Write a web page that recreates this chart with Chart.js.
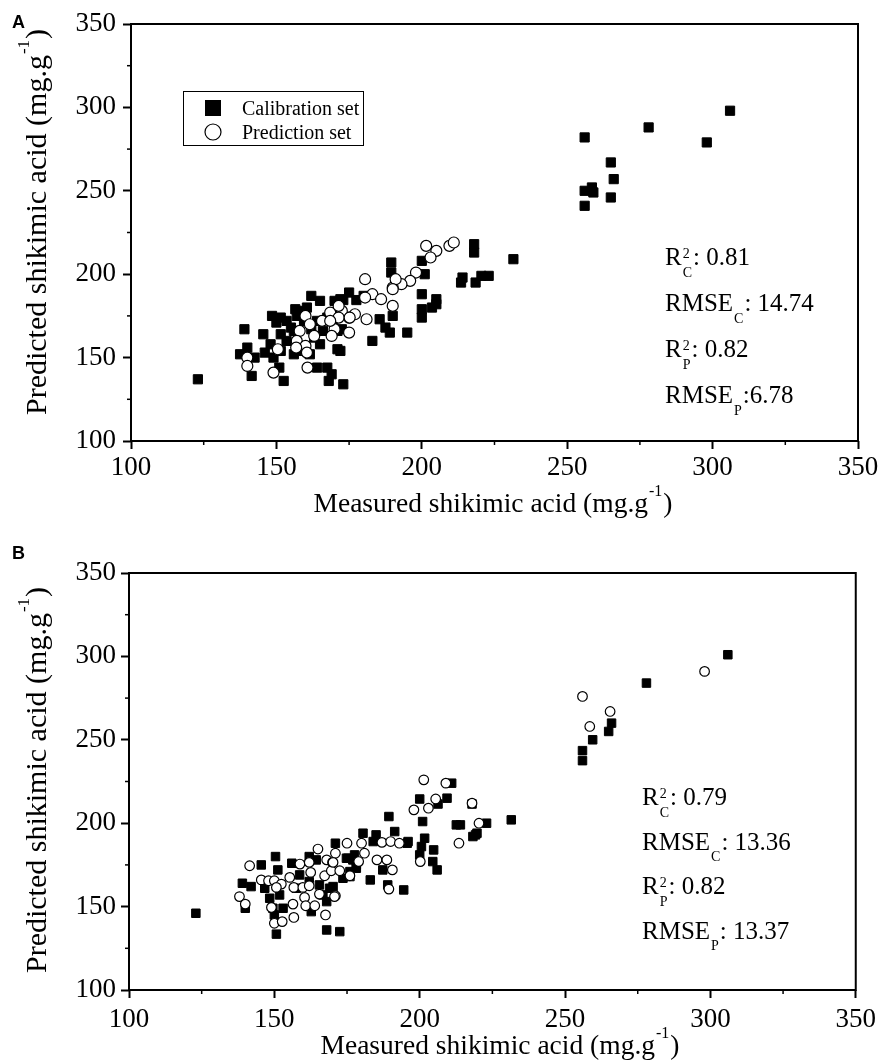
<!DOCTYPE html>
<html lang="en">
<head>
<meta charset="UTF-8">
<title>Shikimic acid: measured vs predicted</title>
<style>
    body { margin: 0; padding: 0; background: #fff; }
    canvas { display: block; }
</style>
<script src="https://cdn.jsdelivr.net/npm/chart.js"></script>
</head>
<body>
<canvas id="chartA" width="882" height="540"></canvas>
<canvas id="chartB" width="882" height="523"></canvas>
<script>
// axis ticks (both panels)
const axisMin = 100;
const axisMax = 350;
const majorStep = 50;
const minorTicks = [125, 175, 225, 275, 325];

// Panel A - calibration set
const calXA = [306, 278, 256, 298, 265, 266, 256, 258.5, 259, 265, 256,
    218, 218, 231.5, 200, 189.5, 189.5, 201, 214, 213.5, 218.5, 220.5, 223, 200, 205, 200, 203.5, 200, 205,
    175, 180, 185.5, 187.5, 189, 190, 195, 183, 172, 173, 172.5,
    123, 139, 140, 137.5, 141.5, 142.5, 145.5, 146, 148.5, 151.5, 149, 151, 152.5, 156.5, 162, 165, 171, 164,
    167.5, 169, 168, 170, 172, 153.5, 156, 153.5, 151.5, 160.5, 164, 163, 165, 158, 161.5, 156, 151.5, 148,
    155, 159.5, 166, 167.5, 169.5, 171, 158, 150, 177.5, 173, 157, 162];
const calYA = [298, 288, 282, 279, 267, 257, 250, 252, 249, 246, 241,
    218, 213, 209, 208, 207, 201, 200, 198, 195, 195, 199, 199, 188, 185, 179, 180, 174, 182,
    189, 187, 173, 168, 165, 175, 165, 160, 154, 134, 167,
    137, 167, 156, 152, 139, 150, 164, 153, 175, 174, 150, 144, 136, 179, 187, 184, 155, 144,
    144, 140, 136, 184, 185, 172, 166, 160, 164, 180, 172, 162, 158, 154, 152, 152, 154, 158,
    168, 172, 166, 174, 172, 166, 178, 171, 184.5, 184.5, 175, 167];

// Panel A - prediction set
const preXA = [201.5, 205, 209.5, 211, 203, 180.5, 198, 196, 193, 190, 191, 190, 183, 180.5, 186, 190, 177, 175,
    181, 175, 172.5, 140, 140, 149, 150.5, 158, 160, 161.5, 163, 157, 160, 160.5, 160.7, 156.8, 165.7, 168.5,
    171.4, 171.4, 170, 169, 175.2, 168.5];
const preYA = [217, 214, 217, 219, 210, 197, 201, 196, 194, 192, 197, 191, 188, 186, 185, 181, 176, 174,
    173, 165, 178, 150, 145, 141, 155, 166, 175, 170, 163, 160, 157, 153, 144, 156, 172, 177,
    181, 174, 167, 163, 174, 172];

// Panel B - calibration set
const calXB = [123, 139, 142, 140, 145.5, 150.4, 150.7, 156, 151.2, 146.7, 148.4, 149.5, 150, 151.8, 153,
    162, 164.4, 158.7, 157.6, 162, 165.5, 166.7, 162.7, 168, 169, 171, 168, 172.5, 175.3, 178.2, 173.6, 176,
    180.5, 185, 191.4, 184, 196, 201.7, 200.6, 204.8, 200, 204.5, 206, 212.6, 219.2, 174.8, 177, 178.2,
    187.3, 183, 189, 194.5, 170.2, 176,
    211, 209.4, 200, 218, 206.3, 189.4, 201, 223, 231.5, 214, 219.7, 218.3, 195.7, 177.6,
    266, 265, 259.5, 256, 256, 278, 306];
const calYB = [146, 164, 162, 149, 175, 180, 133.5, 176, 172, 161, 155, 149, 145, 157, 149,
    180, 178, 169, 161, 165, 163, 157, 147, 153, 161, 188, 136, 135, 179, 175, 167, 168,
    194, 193, 195, 189, 189, 191, 186, 184, 181, 177, 172, 199, 193, 179, 178, 173,
    172, 166, 163, 160, 162, 171,
    224, 215, 214.5, 211.5, 211.5, 204, 201, 200, 202, 199, 194, 192, 188, 181,
    260, 255, 250, 243.5, 237.5, 284, 301];

// Panel B - prediction set
const preXB = [256, 265.5, 258.5, 298, 201.4, 209, 205.5, 203, 198, 218, 220.4, 213.5, 175, 180, 187, 190, 193, 181,
    141.5, 138, 140, 145.5, 148, 150, 152.4, 150.7, 149, 150, 152.7, 156.7, 155.3, 156.7, 156.4, 158.8,
    162, 162.5, 159.8, 162, 160.4, 160.8, 163.9, 165.5, 165, 167.3, 167.6, 168, 170, 171, 169.6, 172.5,
    171, 176, 179, 170.2, 185.3, 188.7, 190.6, 189.4, 170.7, 200.2];
const preYB = [276, 267, 258, 291, 226, 224, 214.5, 209, 208, 212, 200, 188, 188, 188, 188.5, 189, 188, 182,
    174.5, 156, 151.5, 166, 165.5, 165.5, 163.5, 161.5, 149.5, 140, 141, 143.5, 167.5, 161.5, 151.5, 175.5,
    176.5, 170.5, 161.5, 162.5, 155.5, 150.5, 150.5, 157.5, 184.5, 168.5, 145, 178, 176.5, 182, 171.5, 171.5,
    156.5, 168.5, 177, 176.5, 178, 178, 172, 160.5, 156, 177];

const statsA = [
    ['R', { sup: '2', sub: 'C' }, ': 0.81'],
    ['RMSE', { sub: 'C' }, ': 14.74'],
    ['R', { sup: '2', sub: 'P' }, ': 0.82'],
    ['RMSE', { sub: 'P' }, ':6.78']
];
const statsB = [
    ['R', { sup: '2', sub: 'C' }, ': 0.79'],
    ['RMSE', { sub: 'C' }, ': 13.36'],
    ['R', { sup: '2', sub: 'P' }, ': 0.82'],
    ['RMSE', { sub: 'P' }, ': 13.37']
];

const serif = '"Liberation Serif", "Times New Roman", serif';
const xTitle = ['Measured shikimic acid (mg.g', { sup: '-1', high: true }, ')'];
const yTitle = ['Predicted shikimic acid (mg.g', { sup: '-1', high: true }, ')'];

function toPoints(xs, ys) {
    return xs.map((x, i) => ({ x: x, y: ys[i] }));
}

// text with super/subscripts, returns the width
function richText(ctx, parts, x, y, size, draw) {
    const small = Math.round(size * 0.58);
    let cx = x;
    parts.forEach(p => {
        if (typeof p === 'string') {
            ctx.font = size + 'px ' + serif;
            if (draw) ctx.fillText(p, cx, y);
            cx += ctx.measureText(p).width;
        } else {
            ctx.font = small + 'px ' + serif;
            let w = 0;
            if (p.sup) {
                const off = p.high ? size * 0.58 : size * 0.3;
                if (draw) ctx.fillText(p.sup, cx + 1, y - off);
                w = ctx.measureText(p.sup).width;
            }
            if (p.sub) {
                if (draw) ctx.fillText(p.sub, cx + 1, y + size * 0.46);
                w = Math.max(w, ctx.measureText(p.sub).width);
            }
            cx += w + 2;
        }
    });
    return cx - x;
}

const decorPlugin = {
    id: 'decor',
    afterDraw(chart, args, o) {
        const { ctx, chartArea: a, scales } = chart;
        ctx.save();
        ctx.fillStyle = '#000';
        ctx.strokeStyle = '#000';
        ctx.textAlign = 'left';
        ctx.textBaseline = 'alphabetic';

        // frame and minor ticks
        ctx.lineWidth = 2;
        ctx.strokeRect(a.left, a.top, a.right - a.left, a.bottom - a.top);
        ctx.lineWidth = 1.5;
        minorTicks.forEach(v => {
            const px = scales.x.getPixelForValue(v);
            ctx.beginPath(); ctx.moveTo(px, a.bottom); ctx.lineTo(px, a.bottom + 4); ctx.stroke();
            const py = scales.y.getPixelForValue(v);
            ctx.beginPath(); ctx.moveTo(a.left, py); ctx.lineTo(a.left - 4, py); ctx.stroke();
        });

        // panel letter
        ctx.font = 'bold 18px "Liberation Sans", Arial, sans-serif';
        ctx.fillText(o.letter, 12, o.letterY);

        // axis titles
        const tw = richText(ctx, xTitle, 0, 0, 27.5, false);
        richText(ctx, xTitle, o.xTitleX - tw / 2, o.xTitleY, 27.5, true);
        const yw = richText(ctx, yTitle, 0, 0, 30, false);
        ctx.save();
        ctx.translate(o.yTitleX, o.yTitleY);
        ctx.rotate(-Math.PI / 2);
        richText(ctx, yTitle, -yw / 2, 0, 30, true);
        ctx.restore();

        // statistics
        o.stats.forEach((line, i) => {
            richText(ctx, line, o.statsX, o.statsY + i * o.statsGap, 25, true);
        });

        // legend
        if (o.legend) {
            const L = o.legend;
            ctx.lineWidth = 1;
            ctx.strokeRect(L.x + 0.5, L.y + 0.5, L.w, L.h);
            ctx.font = '20px ' + serif;
            chart.data.datasets.slice().sort((p, q) => q.order - p.order).forEach((ds, i) => {
                const cy = L.y + 17 + i * 24;
                const mx = L.x + 30;
                if (ds.pointStyle === 'rect') {
                    ctx.fillRect(mx - 8, cy - 8, 16, 16);
                } else {
                    ctx.beginPath();
                    ctx.arc(mx, cy, 8, 0, Math.PI * 2);
                    ctx.fillStyle = '#fff';
                    ctx.fill();
                    ctx.lineWidth = 1.2;
                    ctx.stroke();
                    ctx.fillStyle = '#000';
                }
                ctx.fillText(ds.label, L.x + 59, cy + 7);
            });
        }
        ctx.restore();
    }
};

function makeChart(id, calX, calY, preX, preY, box, marker, decor) {
    return new Chart(document.getElementById(id), {
        type: 'scatter',
        data: {
            datasets: [
                {
                    label: 'Calibration set', data: toPoints(calX, calY), order: 2,
                    pointStyle: 'rect', pointRadius: marker.rect, backgroundColor: '#000',
                    borderColor: '#000', borderWidth: 1
                },
                {
                    label: 'Prediction set', data: toPoints(preX, preY), order: 1,
                    pointStyle: 'circle', pointRadius: marker.circle, backgroundColor: '#fff',
                    borderColor: '#000', borderWidth: 1.2
                }
            ]
        },
        options: {
            responsive: false,
            animation: false,
            layout: { padding: { top: box.top, right: box.right, left: 0, bottom: 0 } },
            plugins: { legend: { display: false }, tooltip: { enabled: false }, decor: decor },
            scales: {
                x: {
                    type: 'linear', min: axisMin, max: axisMax,
                    afterFit: s => { s.height = box.xh; },
                    border: { display: false },
                    grid: { drawOnChartArea: false, tickLength: 8, tickWidth: 2, tickColor: '#000' },
                    ticks: { stepSize: majorStep, color: '#000', padding: box.xpad, maxRotation: 0,
                        font: { family: serif, size: 27 } }
                },
                y: {
                    type: 'linear', min: axisMin, max: axisMax,
                    afterFit: s => { s.width = box.yw; },
                    border: { display: false },
                    grid: { drawOnChartArea: false, tickLength: 8, tickWidth: 2, tickColor: '#000' },
                    ticks: { stepSize: majorStep, color: '#000', padding: box.ypad,
                        font: { family: serif, size: 27 } }
                }
            }
        },
        plugins: [decorPlugin]
    });
}

makeChart('chartA', calXA, calYA, preXA, preYA,
    { top: 24, right: 24, xh: 99, yw: 131, xpad: 3, ypad: 7 },
    { rect: 6.5, circle: 5.5 },
    { letter: 'A', letterY: 28, xTitleX: 493, xTitleY: 512, yTitleX: 46, yTitleY: 222,
      stats: statsA, statsX: 665, statsY: 265, statsGap: 46,
      legend: { x: 183, y: 91, w: 180, h: 54 } });

makeChart('chartB', calXB, calYB, preXB, preYB,
    { top: 33, right: 25, xh: 73, yw: 129, xpad: 6, ypad: 5 },
    { rect: 6, circle: 4.8 },
    { letter: 'B', letterY: 19, xTitleX: 500, xTitleY: 514, yTitleX: 46, yTitleY: 240,
      stats: statsB, statsX: 642, statsY: 265, statsGap: 44.5 });
</script>
</body>
</html>
